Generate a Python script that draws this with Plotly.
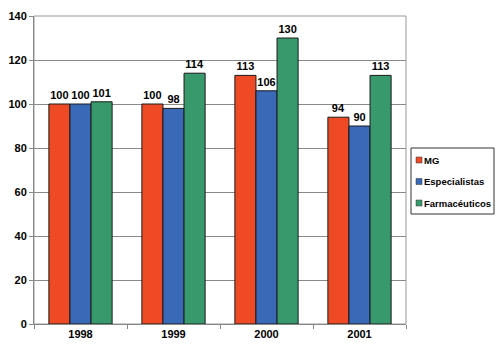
import plotly.graph_objects as go

years = ["1998", "1999", "2000", "2001"]
mg = [100, 100, 113, 94]
especialistas = [100, 98, 106, 90]
farmaceuticos = [101, 114, 130, 113]

series = [
    ("MG", mg, "#EE4A26"),
    ("Especialistas", especialistas, "#3A69B8"),
    ("Farmacéuticos", farmaceuticos, "#389A6C"),
]

font_family = "Liberation Sans, Arial, sans-serif"

W, H = 500, 354
ML, MR, MT, MB = 34, 94, 16, 30
PW, PH = W - ML - MR, H - MT - MB

fig = go.Figure()
for name, vals, color in series:
    fig.add_trace(go.Bar(
        x=years, y=vals, name=name,
        marker=dict(color=color, line=dict(color="#1a1a1a", width=1)),
        text=[str(v) for v in vals], textposition="outside",
        textfont=dict(family=font_family, size=11, color="black", weight="bold"),
        cliponaxis=False, showlegend=False,
    ))

fig.update_layout(
    width=W, height=H,
    margin=dict(l=ML, r=MR, t=MT, b=MB, autoexpand=False),
    paper_bgcolor="white", plot_bgcolor="white",
    barmode="group", bargap=0.32, bargroupgap=0,
    font=dict(family=font_family, size=11, color="black"),
    showlegend=False,
)
fig.update_xaxes(
    showline=True, linecolor="#888888", linewidth=1,
    ticks="outside", tickson="boundaries", ticklen=4, tickcolor="#888888",
    tickfont=dict(family=font_family, size=11, color="black", weight="bold"),
)
fig.update_yaxes(
    range=[0, 140], dtick=20,
    showgrid=True, gridcolor="#8a8a8a", gridwidth=1,
    showline=True, linecolor="#888888", linewidth=1,
    ticks="outside", ticklen=4, tickcolor="#888888",
    tickfont=dict(family=font_family, size=11, color="black", weight="bold"),
    zeroline=False,
)
# plot area border (top/right)
fig.add_shape(type="rect", xref="paper", yref="paper", x0=0, y0=0, x1=1, y1=1,
              line=dict(color="#999999", width=1), layer="below")

# manual legend (pixel positions converted to paper coords)
def px(x):
    return (x - ML) / PW

def py(y):
    return (H - MB - y) / PH

fig.add_shape(type="rect", xref="paper", yref="paper",
              x0=px(411), x1=px(494), y0=py(214), y1=py(148),
              line=dict(color="#333333", width=1), fillcolor="white")
item_y = [160, 181.5, 203]
for (name, _, color), yy in zip(series, item_y):
    fig.add_shape(type="rect", xref="paper", yref="paper",
                  x0=px(416), x1=px(422), y0=py(yy + 3), y1=py(yy - 3),
                  line=dict(color="#333333", width=0.5), fillcolor=color)
    fig.add_annotation(xref="paper", yref="paper", x=px(423), y=py(yy),
                       xanchor="left", yanchor="middle", showarrow=False,
                       text=name, xshift=-1,
                       font=dict(family=font_family, size=9.5, color="black", weight="bold"))

fig.write_html("out.html")
